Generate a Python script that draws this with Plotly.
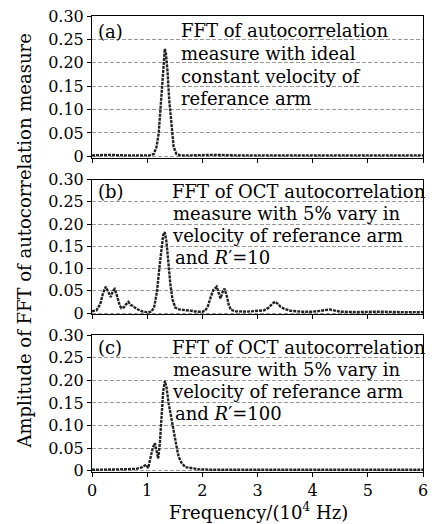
import plotly.graph_objects as go

# ---------------- data ----------------
freq_a = [0, 0.3, 0.6, 0.9, 1.05, 1.12, 1.17, 1.21, 1.25, 1.28, 1.31, 1.32, 1.34, 1.37,
          1.40, 1.44, 1.48, 1.53, 1.6, 1.8, 2.2, 2.6, 3.0, 3.4, 3.8, 4.2, 4.6, 5.0, 5.4, 5.8, 6.0]
amp_a = [0.002, 0.003, 0.002, 0.002, 0.002, 0.005, 0.02, 0.05, 0.12, 0.18, 0.225, 0.23, 0.22, 0.18,
         0.12, 0.06, 0.02, 0.005, 0.002, 0.002, 0.003, 0.002, 0.002, 0.003, 0.002, 0.002, 0.003, 0.002, 0.002, 0.003, 0.002]

freq_b = [0, 0.08, 0.15, 0.2, 0.25, 0.3, 0.34, 0.38, 0.41, 0.45, 0.5, 0.53, 0.58, 0.62, 0.66, 0.7,
          0.74, 0.8, 0.86, 0.92, 1.0, 1.08, 1.13, 1.18, 1.22, 1.26, 1.29, 1.32, 1.35, 1.38, 1.42,
          1.46, 1.51, 1.58, 1.69, 1.8, 1.9, 2.0, 2.05, 2.1, 2.15, 2.2, 2.26, 2.3, 2.33, 2.37, 2.40,
          2.44, 2.48, 2.52, 2.6, 2.8, 3.0, 3.12, 3.2, 3.26, 3.3, 3.33, 3.37, 3.42, 3.48, 3.6, 3.8,
          4.0, 4.15, 4.25, 4.31, 4.38, 4.5, 4.8, 5.2, 5.6, 6.0]
amp_b = [0.004, 0.006, 0.02, 0.045, 0.059, 0.048, 0.036, 0.05, 0.054, 0.04, 0.018, 0.011, 0.013,
         0.02, 0.025, 0.018, 0.016, 0.01, 0.006, 0.003, 0.002, 0.003, 0.015, 0.05, 0.1, 0.15,
         0.175, 0.182, 0.16, 0.12, 0.065, 0.03, 0.012, 0.008, 0.007, 0.005, 0.003, 0.003, 0.005,
         0.015, 0.035, 0.052, 0.059, 0.045, 0.033, 0.048, 0.055, 0.04, 0.018, 0.007, 0.004, 0.003,
         0.004, 0.006, 0.012, 0.02, 0.024, 0.025, 0.02, 0.014, 0.01, 0.005, 0.003, 0.003, 0.005,
         0.007, 0.008, 0.006, 0.003, 0.002, 0.003, 0.002, 0.002]

freq_c = [0, 0.3, 0.6, 0.8, 0.9, 0.95, 0.98, 1.02, 1.06, 1.1, 1.14, 1.17, 1.2, 1.23, 1.26, 1.29,
          1.32, 1.35, 1.39, 1.43, 1.48, 1.53, 1.57, 1.62, 1.69, 1.8, 1.93, 2.2, 2.6, 3.0, 3.5, 4.0,
          4.5, 5.0, 5.5, 6.0]
amp_c = [0.002, 0.002, 0.003, 0.004, 0.007, 0.011, 0.013, 0.006, 0.025, 0.05, 0.061, 0.045, 0.027,
         0.06, 0.12, 0.175, 0.199, 0.185, 0.149, 0.12, 0.09, 0.055, 0.031, 0.018, 0.008, 0.005,
         0.003, 0.002, 0.002, 0.002, 0.002, 0.002, 0.002, 0.002, 0.002, 0.002]

y_ticks = [0, 0.05, 0.10, 0.15, 0.20, 0.25, 0.30]
y_ticktext = ["0", "0.05", "0.10", "0.15", "0.20", "0.25", "0.30"]
x_ticks = [0, 1, 2, 3, 4, 5, 6]
x_ticktext = ["0", "1", "2", "3", "4", "5", "6"]

panel_labels = ["(a)", "(b)", "(c)"]
panel_texts = [
    ["FFT of autocorrelation", "measure with ideal", "constant velocity of", "referance arm"],
    ["FFT of OCT autocorrelation", "measure with 5% vary in", "velocity of referance arm", "and <i>R</i>′=10"],
    ["FFT of OCT autocorrelation", "measure with 5% vary in", "velocity of referance arm", "and <i>R</i>′=100"],
]

# ---------------- layout helpers ----------------
W, H = 435, 524
L, R, T, B = 92, 7, 15, 52
PW, PH = W - L - R, H - T - B
FONT = "DejaVu Serif"


def xp(px):
    return (px - L) / PW


def yp(py):
    return (H - B - py) / PH


domains = [(yp(157), 1.0), (yp(314), yp(179)), (0.0, yp(335))]
yranges = [[-0.003, 0.30], [-0.003, 0.30], [-0.003, 0.30]]

fig = go.Figure()
series = [(freq_a, amp_a), (freq_b, amp_b), (freq_c, amp_c)]
for i, (fx, fy) in enumerate(series):
    n = "" if i == 0 else str(i + 1)
    fig.add_trace(go.Scatter(x=fx, y=fy, mode="lines", xaxis="x" + n, yaxis="y" + n,
                             line=dict(color="#222222", width=2.4, dash="3px,1px"),
                             showlegend=False, hoverinfo="skip"))

axis_common = dict(showline=True, linecolor="black", linewidth=1, mirror=True,
                   ticks="outside", ticklen=4, tickcolor="black",
                   tickfont=dict(family=FONT, size=16, color="black"))

layout = dict(width=W, height=H, margin=dict(l=L, r=R, t=T, b=B),
              paper_bgcolor="white", plot_bgcolor="white", showlegend=False)

for i in range(3):
    n = "" if i == 0 else str(i + 1)
    layout["xaxis" + n] = dict(axis_common, range=[0, 6], domain=[0, 1],
                                anchor="y" + n, tickvals=x_ticks, ticktext=x_ticktext,
                                showticklabels=(i == 2), showgrid=False, zeroline=False)
    layout["yaxis" + n] = dict(axis_common, range=yranges[i], domain=list(domains[i]),
                                anchor="x" + n, tickvals=y_ticks, ticktext=y_ticktext,
                                showgrid=True, gridcolor="#999999", gridwidth=1,
                                griddash="4px,2px", zeroline=False)

fig.update_layout(**layout)

annotations = []
label_y = [31, 191, 347]
text_x = [[180, 180, 180, 180], [171, 172, 171, 174], [171, 172, 171, 174]]
text_y = [[30, 53, 76, 98], [191, 213, 235, 257], [347, 369, 391, 413]]
for i in range(3):
    annotations.append(dict(x=xp(96), y=yp(label_y[i]), xref="paper", yref="paper",
                            text=panel_labels[i], showarrow=False, xanchor="left",
                            yanchor="middle", font=dict(family=FONT, size=18, color="black")))
    for j, line in enumerate(panel_texts[i]):
        annotations.append(dict(x=xp(text_x[i][j]), y=yp(text_y[i][j]), xref="paper", yref="paper",
                                text=line, showarrow=False, xanchor="left", yanchor="middle",
                                font=dict(family=FONT, size=18, color="black")))

annotations.append(dict(x=xp(23), y=yp(241), xref="paper", yref="paper",
                        text="Amplitude of FFT of autocorrelation measure", textangle=-90,
                        showarrow=False, xanchor="center", yanchor="middle",
                        font=dict(family=FONT, size=18, color="black")))
annotations.append(dict(x=xp(261), y=yp(511), xref="paper", yref="paper",
                        text="Frequency/(10<sup>4</sup> Hz)", showarrow=False,
                        xanchor="center", yanchor="middle",
                        font=dict(family=FONT, size=18, color="black")))
fig.update_layout(annotations=annotations)

fig.write_html("out.html")
